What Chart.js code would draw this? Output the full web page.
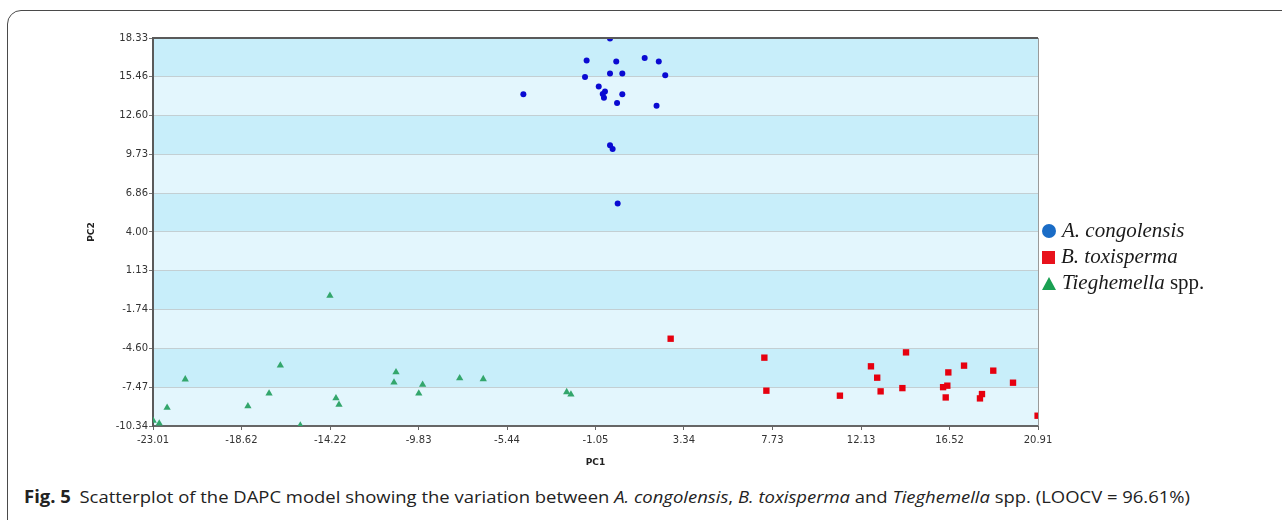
<!DOCTYPE html>
<html lang="en">
<head>
  <meta charset="UTF-8" />
  <title>DAPC scatterplot</title>
  <script src="https://cdn.jsdelivr.net/npm/chart.js"></script>
  <style>
    body {
      margin: 0;
      padding: 0;
      width: 1282px;
      height: 520px;
      background: #ffffff;
      overflow: hidden;
      position: relative;
    }

    .frame {
      position: absolute;
      left: 7px;
      top: 10px;
      width: 1300px;
      height: 540px;
      border: 1.5px solid #4a4a4a;
      border-top-left-radius: 14px;
      box-sizing: border-box;
    }

    #chart {
      position: absolute;
      left: 0;
      top: 0;
    }

    .legend {
      position: absolute;
      left: 1042px;
      top: 217px;
      font-family: "Liberation Serif", serif;
      font-size: 21px;
      color: #1a1a1a;
      line-height: 26px;
    }

    .legend div {
      height: 26px;
      white-space: nowrap;
    }

    .legend i { font-style: italic; }

    .mk {
      display: inline-block;
      width: 14px;
      height: 14px;
      margin-right: 6px;
      vertical-align: -1px;
    }

    .mk.circle { background: #1a6cc6; border-radius: 50%; }
    .mk.square { background: #e8121c; width: 13px; height: 13px; }
    .mk.tri { background: #1aa052; clip-path: polygon(50% 0, 100% 100%, 0 100%); height: 13px; }

    .caption {
      position: absolute;
      left: 24px;
      top: 485px;
      font-family: "Open Sans", sans-serif;
      font-size: 17px;
      color: #222;
      white-space: nowrap;
      transform-origin: left center;
    }

    .caption b { font-weight: 700; margin-right: 8px; }
    .caption i { font-style: italic; }
  </style>
</head>
<body>
  <div class="frame"></div>
  <canvas id="chart" width="1282" height="473"></canvas>

  <div class="legend">
    <div><span class="mk circle"></span><i>A. congolensis</i></div>
    <div><span class="mk square"></span><i>B. toxisperma</i></div>
    <div><span class="mk tri"></span><i>Tieghemella</i> spp.</div>
  </div>

  <div class="caption" id="caption"><b>Fig. 5</b>Scatterplot of the DAPC model showing the variation between <i>A. congolensis</i>, <i>B. toxisperma</i> and <i>Tieghemella</i> spp. (LOOCV = 96.61%)</div>

  <script>
    // axis ticks as printed on the figure
    const pc1Ticks = ['-23.01', '-18.62', '-14.22', '-9.83', '-5.44', '-1.05', '3.34', '7.73', '12.13', '16.52', '20.91'];
    const pc2Ticks = ['18.33', '15.46', '12.60', '9.73', '6.86', '4.00', '1.13', '-1.74', '-4.60', '-7.47', '-10.34'];

    // A. congolensis
    const congolensisPC1 = [-0.33, -1.49, -0.02, 1.39, 2.09, -0.33, 0.28, 2.41, -1.57, -0.89, -0.58, -0.69, -0.63, 0.28, -4.63, 0.02, 1.98, -0.33, -0.20, 0.05];
    const congolensisPC2 = [18.30, 16.66, 16.59, 16.85, 16.59, 15.70, 15.70, 15.57, 15.45, 14.74, 14.37, 14.19, 13.92, 14.17, 14.17, 13.53, 13.33, 10.40, 10.13, 6.11];

    // B. toxisperma
    const toxispermaPC1 = [2.68, 7.33, 7.43, 11.08, 12.62, 12.93, 13.10, 14.36, 14.18, 16.20, 16.41, 16.46, 16.33, 17.24, 18.13, 18.03, 18.69, 19.67, 20.89];
    const toxispermaPC2 = [-3.89, -5.29, -7.73, -8.10, -5.93, -6.77, -7.78, -4.90, -7.54, -7.47, -7.36, -6.38, -8.23, -5.88, -7.98, -8.30, -6.25, -7.14, -9.58];

    // Tieghemella spp.
    const tieghemellaPC1 = [-14.23, -16.69, -21.41, -10.95, -11.05, -17.25, -13.93, -13.78, -18.30, -22.31, -23.00, -22.70, -15.70, -9.63, -9.82, -7.79, -6.62, -2.48, -2.27];
    const tieghemellaPC2 = [-0.71, -5.86, -6.89, -6.36, -7.12, -7.93, -8.28, -8.77, -8.87, -8.99, -9.95, -10.15, -10.30, -7.29, -7.93, -6.80, -6.87, -7.83, -8.00];

    const toPoints = (xs, ys) => xs.map((x, i) => ({ x: x, y: ys[i] }));
    const xTickValues = pc1Ticks.map(Number);
    const yTickValues = pc2Ticks.map(Number);

    // alternating horizontal bands + top/right frame of the plot area
    const bandPlugin = {
      id: 'bands',
      beforeDraw(chart) {
        const { ctx, chartArea } = chart;
        const y = chart.scales.y;
        ctx.save();
        for (let i = 0; i < yTickValues.length - 1; i++) {
          const top = y.getPixelForValue(yTickValues[i]);
          const bottom = y.getPixelForValue(yTickValues[i + 1]);
          ctx.fillStyle = i % 2 === 0 ? '#c8eefa' : '#e3f6fd';
          ctx.fillRect(chartArea.left, top, chartArea.right - chartArea.left, bottom - top);
        }
        ctx.restore();
      },
      afterDraw(chart) {
        const { ctx, chartArea } = chart;
        ctx.save();
        ctx.strokeStyle = '#5a5a5a';
        ctx.lineWidth = 2;
        ctx.beginPath();
        ctx.moveTo(chartArea.left, chartArea.top);
        ctx.lineTo(chartArea.right, chartArea.top);
        ctx.stroke();
        ctx.strokeStyle = '#9a9a9a';
        ctx.lineWidth = 1;
        ctx.beginPath();
        ctx.moveTo(chartArea.right + 0.5, chartArea.top);
        ctx.lineTo(chartArea.right + 0.5, chartArea.bottom);
        ctx.stroke();
        ctx.restore();
      }
    };

    new Chart(document.getElementById('chart').getContext('2d'), {
      type: 'scatter',
      data: {
        datasets: [
          { label: 'A. congolensis', data: toPoints(congolensisPC1, congolensisPC2), pointStyle: 'circle', pointRadius: 3, backgroundColor: '#0a0ad2', borderWidth: 0, clip: 0 },
          { label: 'B. toxisperma', data: toPoints(toxispermaPC1, toxispermaPC2), pointStyle: 'rect', pointRadius: 4.5, backgroundColor: '#e6000f', borderWidth: 0, clip: 0 },
          { label: 'Tieghemella spp.', data: toPoints(tieghemellaPC1, tieghemellaPC2), pointStyle: 'triangle', pointRadius: 4.2, backgroundColor: '#33a66c', borderWidth: 0, clip: 0 }
        ]
      },
      options: {
        responsive: false,
        animation: false,
        devicePixelRatio: 1,
        layout: { padding: { left: 80, right: 244, top: 38, bottom: 0 } },
        plugins: {
          legend: { display: false },
          tooltip: { enabled: false }
        },
        scales: {
          x: {
            type: 'linear',
            min: xTickValues[0],
            max: xTickValues[xTickValues.length - 1],
            afterBuildTicks: scale => { scale.ticks = xTickValues.map(v => ({ value: v })); },
            afterFit: scale => { scale.height = 47; },
            ticks: {
              autoSkip: false,
              maxRotation: 0,
              padding: 4,
              color: '#333',
              font: { family: 'DejaVu Sans', size: 10 },
              callback: (v, i) => pc1Ticks[i]
            },
            grid: { drawOnChartArea: false, tickLength: 4, tickColor: '#666', tickWidth: 1 },
            border: { color: '#666', width: 2 },
            title: { display: true, text: 'PC1', color: '#222', padding: { top: 4, bottom: 5 }, font: { family: 'DejaVu Sans', size: 9, weight: 'bold' } }
          },
          y: {
            type: 'linear',
            min: yTickValues[yTickValues.length - 1],
            max: yTickValues[0],
            afterBuildTicks: scale => { scale.ticks = yTickValues.slice().reverse().map(v => ({ value: v })); },
            afterFit: scale => { scale.width = 73; },
            ticks: {
              autoSkip: false,
              padding: 1,
              color: '#333',
              font: { family: 'DejaVu Sans', size: 10 },
              callback: v => pc2Ticks[yTickValues.indexOf(v)]
            },
            grid: { color: '#c3cfd3', lineWidth: 1, tickLength: 4, tickColor: '#777' },
            border: { color: '#5a5a5a', width: 2 },
            title: { display: true, text: 'PC2', color: '#222', padding: { top: 6, bottom: 4 }, font: { family: 'DejaVu Sans', size: 9, weight: 'bold' } }
          }
        }
      },
      plugins: [bandPlugin]
    });

    // squeeze the caption to the width it has in the figure
    const cap = document.getElementById('caption');
    const w = cap.getBoundingClientRect().width;
    cap.style.transform = 'scaleX(' + (1166 / w) + ')';
  </script>
</body>
</html>
